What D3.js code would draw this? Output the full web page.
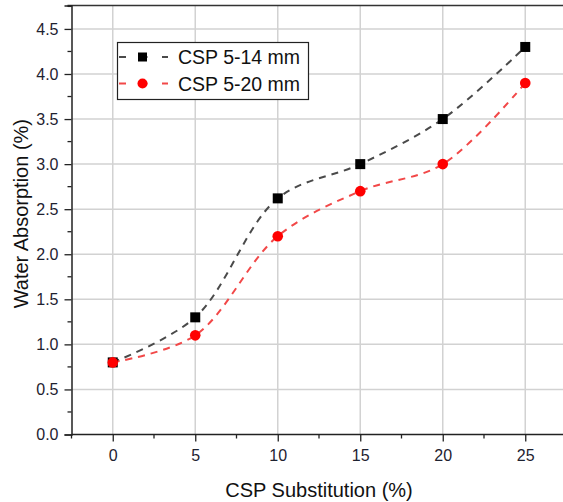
<!DOCTYPE html>
<html>
<head>
<meta charset="utf-8">
<script src="https://cdn.jsdelivr.net/npm/d3@7"></script>
<style>
  html, body { margin: 0; padding: 0; background: #fff; }
  svg { display: block; font-family: "Liberation Sans", Arial, sans-serif; }
</style>
</head>
<body>
<div id="chart"></div>
<script>
const substitution = [0, 5, 10, 15, 20, 25];
const csp514 = [0.8, 1.3, 2.62, 3.0, 3.5, 4.3];
const csp520 = [0.8, 1.1, 2.2, 2.7, 3.0, 3.9];
const seriesNames = ["CSP 5-14 mm", "CSP 5-20 mm"];
const xTicks = [0, 5, 10, 15, 20, 25];
const yTicks = [0, 0.5, 1, 1.5, 2, 2.5, 3, 3.5, 4, 4.5];

const width = 563, height = 502;
const margin = { top: 5.5, right: -3.5, bottom: 67.5, left: 71.5 };

const svg = d3.select("#chart").append("svg")
  .attr("width", width)
  .attr("height", height);

const x = d3.scaleLinear().domain([-2.5, 27.5]).range([margin.left, width - margin.right]);
const y = d3.scaleLinear().domain([0, 4.76]).range([height - margin.bottom, margin.top]);

// grid
const grid = svg.append("g").attr("stroke", "#d2d2d2").attr("stroke-width", 1.5);
grid.selectAll(".gx").data(xTicks).join("line")
  .attr("x1", d => x(d)).attr("x2", d => x(d))
  .attr("y1", y.range()[0]).attr("y2", y.range()[1]);
grid.selectAll(".gy").data(yTicks.filter(d => d > 0)).join("line")
  .attr("x1", x.range()[0]).attr("x2", x.range()[1])
  .attr("y1", d => y(d)).attr("y2", d => y(d));

// frame top
svg.append("line")
  .attr("x1", x.range()[0] - 4).attr("x2", width)
  .attr("y1", y.range()[1]).attr("y2", y.range()[1])
  .attr("stroke", "#333").attr("stroke-width", 1.5);

// minor ticks
const xMinor = d3.range(-2.5, 28, 2.5).filter(d => !xTicks.includes(d));
const yMinor = d3.range(0.25, 4.76, 0.5);

const xAxis = svg.append("g")
  .attr("transform", `translate(0,${y.range()[0]})`)
  .call(d3.axisBottom(x).tickValues(xTicks).tickSize(7).tickPadding(8).tickFormat(d3.format("d")));
xAxis.append("g").selectAll("line").data(xMinor).join("line")
  .attr("x1", d => x(d)).attr("x2", d => x(d)).attr("y1", 0).attr("y2", 4)
  .attr("stroke", "#222").attr("stroke-width", 1.3);

const yAxis = svg.append("g")
  .attr("transform", `translate(${x.range()[0]},0)`)
  .call(d3.axisLeft(y).tickValues(yTicks).tickSize(7).tickPadding(6).tickFormat(d3.format(".1f")));
yAxis.append("g").selectAll("line").data(yMinor).join("line")
  .attr("y1", d => y(d)).attr("y2", d => y(d)).attr("x1", 0).attr("x2", -4)
  .attr("stroke", "#222").attr("stroke-width", 1.3);

[xAxis, yAxis].forEach(g => {
  g.attr("font-size", null).attr("font-family", null);
  g.select(".domain").attr("stroke", "#222").attr("stroke-width", 1.5);
  g.selectAll(".tick line").attr("stroke", "#222").attr("stroke-width", 1.3);
  g.selectAll(".tick text").attr("fill", "#1e2230").style("font-size", "16px");
});
xAxis.select(".domain").attr("d", `M${x.range()[0]},0H${width}`);

// axis titles
svg.append("text")
  .attr("x", x(12.5)).attr("y", 497)
  .attr("text-anchor", "middle")
  .style("font-size", "20px").attr("fill", "#111")
  .text("CSP Substitution (%)");
svg.append("text")
  .attr("transform", `translate(28,${y(2.45)}) rotate(-90)`)
  .attr("text-anchor", "middle")
  .style("font-size", "20px").attr("fill", "#111")
  .text("Water Absorption (%)");

// series
const line = d3.line().x(d => x(d[0])).y(d => y(d[1])).curve(d3.curveCatmullRom);
const s1 = substitution.map((d, i) => [d, csp514[i]]);
const s2 = substitution.map((d, i) => [d, csp520[i]]);

svg.append("path").datum(s1).attr("d", line)
  .attr("fill", "none").attr("stroke", "#4a4a4a").attr("stroke-width", 2)
  .attr("stroke-dasharray", "7,6");
svg.append("path").datum(s2).attr("d", line)
  .attr("fill", "none").attr("stroke", "#f24848").attr("stroke-width", 2)
  .attr("stroke-dasharray", "7,6");

svg.append("g").selectAll("rect").data(s1).join("rect")
  .attr("x", d => x(d[0]) - 5).attr("y", d => y(d[1]) - 5)
  .attr("width", 10).attr("height", 10).attr("fill", "#000");
svg.append("g").selectAll("circle").data(s2).join("circle")
  .attr("cx", d => x(d[0])).attr("cy", d => y(d[1])).attr("r", 5.3)
  .attr("fill", "#ff0000");

// legend
const legend = svg.append("g");
legend.append("rect")
  .attr("x", 117.5).attr("y", 42.5).attr("width", 191).attr("height", 57)
  .attr("fill", "#fff").attr("stroke", "#222").attr("stroke-width", 1.2);
const legendItems = [
  { name: seriesNames[0], stroke: "#4a4a4a", fill: "#000", shape: "square" },
  { name: seriesNames[1], stroke: "#f24848", fill: "#ff0000", shape: "circle" }
];
legendItems.forEach((it, i) => {
  const cy = 57 + i * 26.5;
  legend.append("line")
    .attr("x1", 119).attr("x2", 168).attr("y1", cy).attr("y2", cy)
    .attr("stroke", it.stroke).attr("stroke-width", 2).attr("stroke-dasharray", "7,14.5");
  if (it.shape === "square") {
    legend.append("rect").attr("x", 138).attr("y", cy - 4.5).attr("width", 9).attr("height", 9).attr("fill", it.fill);
  } else {
    legend.append("circle").attr("cx", 142.5).attr("cy", cy).attr("r", 5).attr("fill", it.fill);
  }
  legend.append("text")
    .attr("x", 178).attr("y", cy + 7)
    .style("font-size", "19.5px").attr("fill", "#111")
    .text(it.name);
});
</script>
</body>
</html>
